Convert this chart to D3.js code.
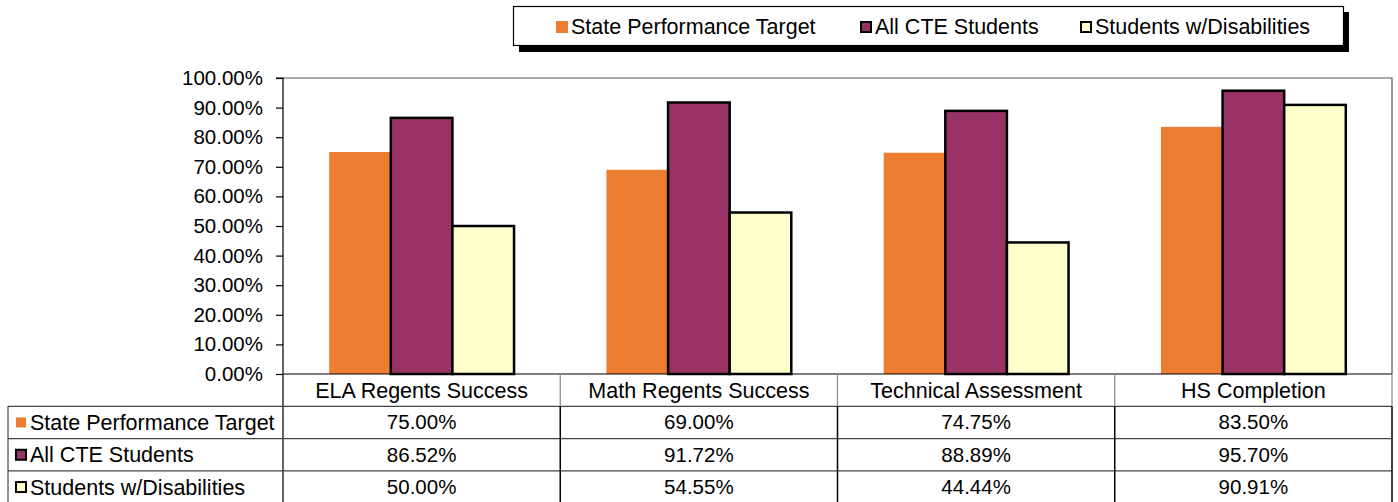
<!DOCTYPE html>
<html>
<head>
<meta charset="utf-8">
<script src="https://cdn.jsdelivr.net/npm/d3@7"></script>
<style>
  body { margin: 0; background: #fff; }
  text { font-family: "Liberation Sans", Arial, sans-serif; fill: #000; }
</style>
</head>
<body>
<script>
//data
const categories = ["ELA Regents Success", "Math Regents Success", "Technical Assessment", "HS Completion"];
const seriesNames = ["State Performance Target", "All CTE Students", "Students w/Disabilities"];
const targetValues = [75.00, 69.00, 74.75, 83.50];
const cteValues = [86.52, 91.72, 88.89, 95.70];
const disabilityValues = [50.00, 54.55, 44.44, 90.91];
const yTicks = [0, 10, 20, 30, 40, 50, 60, 70, 80, 90, 100];

const seriesValues = [targetValues, cteValues, disabilityValues];
const colors = ["#ED7D31", "#993366", "#FFFFCC"];
const strokes = ["none", "#000", "#000"];

//layout consts
const width = 1398, height = 502;
const plotLeft = 283, plotRight = 1392, plotTop = 78, plotBottom = 374;
const tableLeft = 8;
const rowH = 32.3;
const numSize = 20.5;   // digits
const labelSize = 21.5; // words

const svg = d3.select("body").append("svg")
  .attr("width", width)
  .attr("height", height);

//scales
const xScale = d3.scaleBand()
  .domain(categories)
  .range([plotLeft, plotRight])
  .paddingInner(0);

const xInner = d3.scaleBand()
  .domain(seriesNames)
  .range([0, xScale.bandwidth()])
  .paddingInner(0)
  .paddingOuter(0.75);

const yScale = d3.scaleLinear()
  .domain([0, 100])
  .range([plotBottom, plotTop]);

//plot border (top + right)
svg.append("path")
  .attr("d", `M${plotLeft},${plotTop}H${plotRight}V${plotBottom}`)
  .attr("fill", "none")
  .attr("stroke", "#555")
  .attr("stroke-width", 1.2);

//bars
seriesNames.forEach((s, i) => {
  svg.append("g").selectAll("rect")
    .data(categories.map((c, j) => ({ cat: c, v: seriesValues[i][j] })))
    .enter()
    .append("rect")
    .attr("x", d => xScale(d.cat) + xInner(s))
    .attr("y", d => yScale(d.v))
    .attr("width", xInner.bandwidth())
    .attr("height", d => plotBottom - yScale(d.v))
    .attr("fill", colors[i])
    .attr("stroke", strokes[i])
    .attr("stroke-width", 2.5);
});

//y axis
const leftAxis = d3.axisLeft(yScale)
  .tickValues(yTicks)
  .tickSize(7)
  .tickPadding(13)
  .tickFormat(d => d.toFixed(2) + "%");

const yAxisG = svg.append("g")
  .attr("transform", `translate(${plotLeft},0)`)
  .call(leftAxis);
yAxisG.select(".domain").attr("stroke", "#000").attr("stroke-width", 1.2)
  .attr("d", `M-7,${plotTop}H0V${plotBottom + 4 * rowH}`);
yAxisG.selectAll(".tick line").attr("stroke", "#000").attr("stroke-width", 1.2);
yAxisG.selectAll(".tick text")
  .style("font-family", "'Liberation Sans', Arial, sans-serif")
  .style("font-size", numSize + "px")
  .attr("fill", "#000");

//x baseline
svg.append("line")
  .attr("x1", plotLeft).attr("x2", plotRight)
  .attr("y1", plotBottom).attr("y2", plotBottom)
  .attr("stroke", "#000").attr("stroke-width", 1.2);

//data table
const table = svg.append("g");
const rowY = i => plotBottom + rowH * i;

//horizontal lines
[1, 2, 3].forEach(i => {
  table.append("line")
    .attr("x1", tableLeft).attr("x2", plotRight)
    .attr("y1", rowY(i)).attr("y2", rowY(i))
    .attr("stroke", "#444").attr("stroke-width", 1.2);
});
//left table edge
table.append("line")
  .attr("x1", tableLeft).attr("x2", tableLeft)
  .attr("y1", rowY(1)).attr("y2", height)
  .attr("stroke", "#444").attr("stroke-width", 1.2);
//column dividers
categories.forEach((c, j) => {
  const xr = xScale(c) + xScale.bandwidth();
  table.append("line")
    .attr("x1", xr).attr("x2", xr)
    .attr("y1", plotBottom).attr("y2", rowY(1))
    .attr("stroke", "#888").attr("stroke-width", 1.2);
  table.append("line")
    .attr("x1", xr).attr("x2", xr)
    .attr("y1", rowY(1)).attr("y2", height)
    .attr("stroke", "#000").attr("stroke-width", 1.5);
});

//header labels
table.selectAll(".cat")
  .data(categories)
  .enter()
  .append("text")
  .attr("x", d => xScale(d) + xScale.bandwidth() / 2)
  .attr("y", rowY(0) + rowH / 2 + 7.5)
  .attr("text-anchor", "middle")
  .style("font-size", labelSize + "px")
  .text(d => d);

//rows
seriesNames.forEach((s, i) => {
  const yMid = rowY(i + 1) + rowH / 2;
  table.append("rect")
    .attr("x", 16).attr("y", yMid - 5)
    .attr("width", 10).attr("height", 10)
    .attr("fill", colors[i])
    .attr("stroke", strokes[i])
    .attr("stroke-width", 2);
  table.append("text")
    .attr("x", 30).attr("y", yMid + 7.5)
    .style("font-size", labelSize + "px")
    .text(s);
  table.selectAll(".v" + i)
    .data(categories.map((c, j) => ({ cat: c, v: seriesValues[i][j] })))
    .enter()
    .append("text")
    .attr("x", d => xScale(d.cat) + xScale.bandwidth() / 2)
    .attr("y", yMid + 7)
    .attr("text-anchor", "middle")
    .style("font-size", numSize + "px")
    .text(d => d.v.toFixed(2) + "%");
});

//legend
const legend = svg.append("g");
legend.append("rect")
  .attr("x", 519).attr("y", 12)
  .attr("width", 830).attr("height", 40)
  .attr("fill", "#000");
legend.append("rect")
  .attr("x", 513.5).attr("y", 6.5)
  .attr("width", 830).attr("height", 39)
  .attr("fill", "#fff")
  .attr("stroke", "#000")
  .attr("stroke-width", 1.2);

const legendX = [556, 860, 1080];
seriesNames.forEach((s, i) => {
  legend.append("rect")
    .attr("x", legendX[i] + (i ? 1 : 0)).attr("y", 21 + (i ? 1 : 0))
    .attr("width", i ? 10 : 12).attr("height", i ? 10 : 12)
    .attr("fill", colors[i])
    .attr("stroke", strokes[i])
    .attr("stroke-width", 2);
  legend.append("text")
    .attr("x", legendX[i] + 15)
    .attr("y", 34)
    .style("font-size", labelSize + "px")
    .text(s);
});
</script>
</body>
</html>
